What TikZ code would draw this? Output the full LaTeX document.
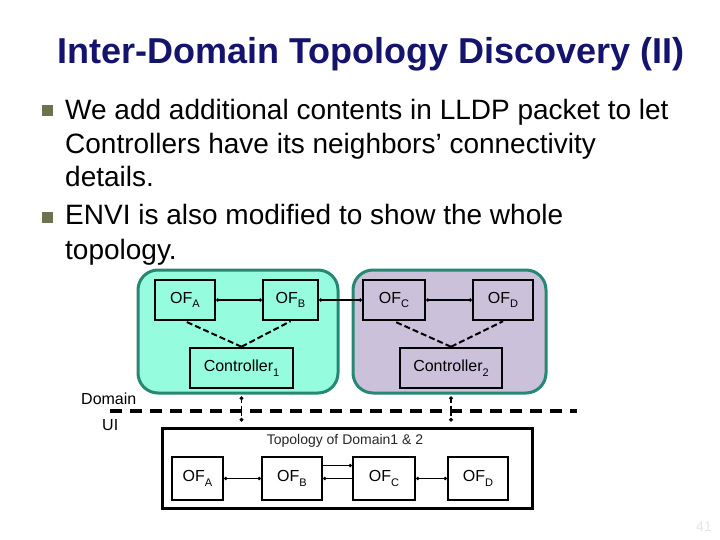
\documentclass[tikz,border=0pt]{standalone}
\usepackage{fontspec}
\setmainfont{Liberation Sans}
\usetikzlibrary{arrows.meta}
\definecolor{titleblue}{RGB}{20,20,110}
\definecolor{bulletc}{RGB}{110,114,80}
\definecolor{aquafill}{RGB}{150,252,222}
\definecolor{lavfill}{RGB}{204,193,218}
\definecolor{domborder}{RGB}{40,135,115}
\newcommand\mysub[1]{\raisebox{-0.3em}{\fontsize{11}{11}\selectfont #1}}
\tikzset{
  bodyline/.style={anchor=base west, inner sep=0, font=\fontsize{28}{32}\selectfont},
  bulletbox/.style={fill=bulletc, minimum size=11, inner sep=0},
  dombox/.style={draw=domborder, line width=3, rounded corners=20, inner sep=0},
  ofbox/.style={draw=black, line width=2.5, minimum height=40, inner sep=0, font=\fontsize{16}{18}\selectfont},
  bofbox/.style={draw=black, line width=2.5, minimum height=43, inner sep=0, font=\fontsize{16}{18}\selectfont},
  link/.style={line width=1.8, {Circle[length=3pt]}-{Circle[length=3pt]}},
  ctrlline/.style={line width=2, dash pattern=on 6pt off 3pt},
  vconn/.style={line width=1.8, dash pattern=on 4pt off 2.5pt, {Circle[length=3.5pt]}-{Circle[length=3.5pt]}},
  sepline/.style={line width=4, dash pattern=on 12pt off 8pt},
}
\begin{document}
\begin{tikzpicture}[x=1pt,y=-1pt]
\useasboundingbox (0,0) rectangle (720,540);

% title
\node[anchor=base, inner sep=0, font=\bfseries\fontsize{36}{40}\selectfont, text=titleblue] (title) at (371,64) {Inter-Domain Topology Discovery (II)};

% bullets
\node[bulletbox] (b1) at (47.5,111) {};
\node[bulletbox] (b2) at (47.5,218) {};
\node[bodyline] (l1) at (65,120) {We add additional contents in LLDP packet to let};
\node[bodyline] (l2) at (65,153.5) {Controllers have its neighbors’ connectivity};
\node[bodyline] (l3) at (65,187) {details.};
\node[bodyline] (l4) at (65,225) {ENVI is also modified to show the whole};
\node[bodyline] (l5) at (65,259) {topology.};

% domains
\node[dombox, fill=aquafill, minimum width=200, minimum height=123] (d1) at (238,331.5) {};
\node[dombox, fill=lavfill, minimum width=193, minimum height=123] (d2) at (449.5,331.5) {};

% switches
\node[ofbox, minimum width=60] (ofa) at (185,300) {OF\mysub{A}};
\node[ofbox, minimum width=55] (ofb) at (290.5,300) {OF\mysub{B}};
\node[ofbox, minimum width=62] (ofc) at (394,300) {OF\mysub{C}};
\node[ofbox, minimum width=60] (ofd) at (503,300) {OF\mysub{D}};
\node[ofbox, minimum width=103] (c1) at (241.5,368) {Controller\mysub{1}};
\node[ofbox, minimum width=102] (c2) at (451,368) {Controller\mysub{2}};

\draw[link] (ofa.east) -- (ofb.west);
\draw[link] (ofb.east) -- (ofc.west);
\draw[link] (ofc.east) -- (ofd.west);

\draw[ctrlline] (c1.north) -- (ofa.south);
\draw[ctrlline] (c1.north) -- (ofb.south);
\draw[ctrlline] (c2.north) -- (ofc.south);
\draw[ctrlline] (c2.north) -- (ofd.south);

% separator
\node[anchor=base west, inner sep=0, font=\fontsize{16}{18}\selectfont] (domlbl) at (81,404) {Domain};
\node[anchor=base west, inner sep=0, font=\fontsize{16}{18}\selectfont] (uilbl) at (102,430) {UI};
\coordinate (hl) at (110,411);
\coordinate (hr) at (577,411);
\draw[sepline] (hl) -- (hr);

% topology box
\node[draw=black, line width=3, minimum width=370, minimum height=80, inner sep=0] (topo) at (347,468) {};
\node[inner sep=0, font=\fontsize{14}{16}\selectfont, text=black!85] (tlbl) at (345,441) {Topology of Domain1 \& 2};

\draw[vconn, shorten <=2pt, shorten >=5pt] (c1 |- d1.south) -- (c1 |- topo.north);
\draw[vconn, shorten <=2pt, shorten >=5pt] (c2 |- d2.south) -- (c2 |- topo.north);

\node[bofbox, minimum width=51] (bofa) at (197.5,478.5) {OF\mysub{A}};
\node[bofbox, minimum width=60] (bofb) at (292,478.5) {OF\mysub{B}};
\node[bofbox, minimum width=62] (bofc) at (384,478.5) {OF\mysub{C}};
\node[bofbox, minimum width=60] (bofd) at (478,478.5) {OF\mysub{D}};

\draw[link] (bofa.east) -- (bofb.west);
\draw[line width=1.8, -{Circle[length=3pt]}] ([yshift=13pt]bofb.east) -- ([yshift=13pt]bofc.west);
\draw[line width=1.8, {Circle[length=3pt]}-] (bofb.east) -- (bofc.west);
\draw[link] (bofc.east) -- (bofd.west);

% page number
\node[inner sep=0, text=black!10, font=\fontsize{14}{16}\selectfont] (pg) at (704,527) {41};
\end{tikzpicture}
\end{document}
